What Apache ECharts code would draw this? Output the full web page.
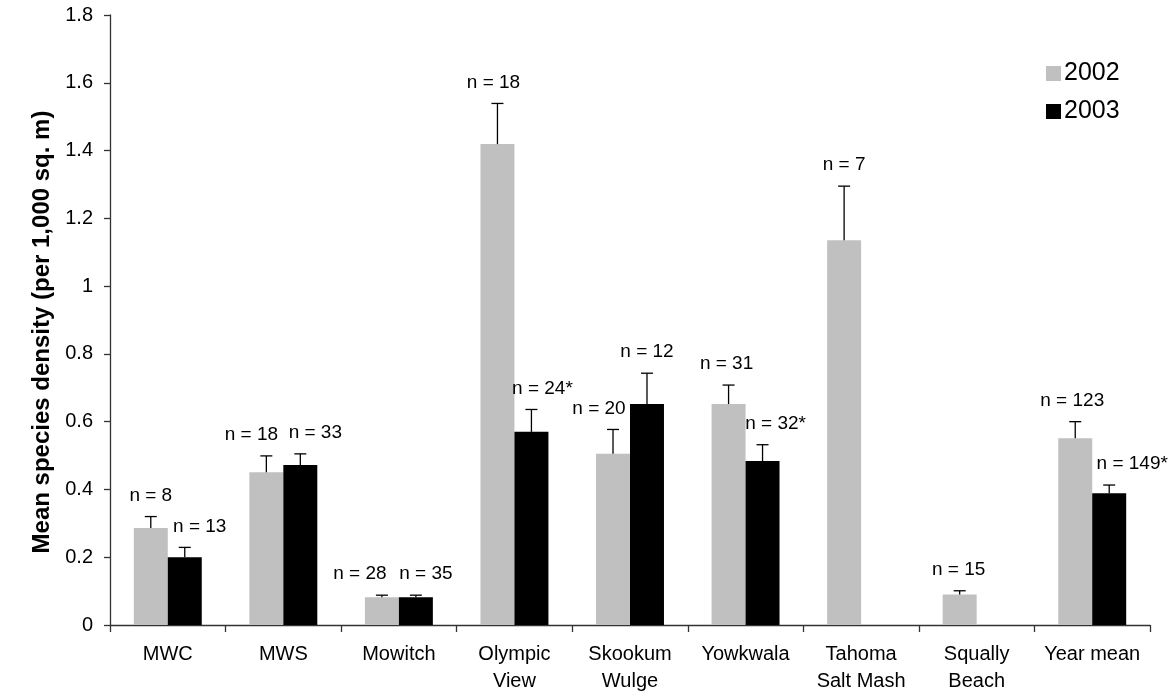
<!DOCTYPE html>
<html>
<head>
<meta charset="utf-8">
<script src="https://cdn.jsdelivr.net/npm/echarts@6/dist/echarts.min.js"></script>
<style>
html,body{margin:0;padding:0;background:#fff;}
#chart{width:1176px;height:696px;}
</style>
</head>
<body>
<div id="chart"></div>
<script>
var categories = ['MWC', 'MWS', 'Mowitch', 'Olympic\nView', 'Skookum\nWulge', 'Yowkwala', 'Tahoma\nSalt Mash', 'Squally\nBeach', 'Year mean'];
var mean2002 = [0.286, 0.451, 0.082, 1.419, 0.505, 0.652, 1.135, 0.090, 0.551];
var se2002   = [0.034, 0.048, 0.006, 0.120, 0.072, 0.056, 0.160, 0.011, 0.049];
var mean2003 = [0.200, 0.472, 0.082, 0.570, 0.652, 0.484, null, null, 0.389];
var se2003   = [0.029, 0.033, 0.006, 0.066, 0.091, 0.048, null, null, 0.024];
var n2002 = ['n = 8', 'n = 18', 'n = 28', 'n = 18', 'n = 20', 'n = 31', 'n = 7', 'n = 15', 'n = 123'];
var n2003 = ['n = 13', 'n = 33', 'n = 35', 'n = 24*', 'n = 12', 'n = 32*', null, null, 'n = 149*'];
var yTicks = { min: 0, max: 1.8, interval: 0.2 };

// layout: horizontal nudges of the n-labels (pixels), as placed in the original
var labelShift2002 = [0, -15, -22, -4, -14, -2, 0, -1, -3];
var labelShift2003 = [15, 15, 10, 11, 0, 13, 0, 0, 23];

var GAP = 0.412;
var FONT = '"Liberation Sans", Arial, sans-serif';

function errSeries(name, means, ses, labels, shifts, side) {
  var data = means.map(function (m, i) {
    return m == null ? [i, null, null] : [i, m, m + ses[i]];
  });
  return {
    type: 'custom',
    name: name + ' err',
    data: data,
    z: 5,
    silent: true,
    encode: { x: 0, y: [1, 2] },
    renderItem: function (params, api) {
      var i = api.value(0);
      var m = api.value(1);
      if (m == null || isNaN(m)) return null;
      var top = api.value(2);
      var p0 = api.coord([i, m]);
      var p1 = api.coord([i, top]);
      var bw = api.size([1, 0])[0] * (1 - GAP) / 2;
      var cx = p0[0] + side * bw / 2;
      var cap = 6;
      return {
        type: 'group',
        children: [
          { type: 'line', shape: { x1: cx, y1: p0[1], x2: cx, y2: p1[1] }, style: { stroke: '#000', lineWidth: 1.3 } },
          { type: 'line', shape: { x1: cx - cap, y1: p1[1], x2: cx + cap, y2: p1[1] }, style: { stroke: '#000', lineWidth: 1.3 } },
          { type: 'text', x: cx + shifts[i], y: p1[1] - 21,
            style: { text: labels[i], fill: '#000', font: '19px ' + FONT, textAlign: 'center', textVerticalAlign: 'middle' } }
        ]
      };
    }
  };
}

var chart = echarts.init(document.getElementById('chart'));
chart.setOption({
  animation: false,
  backgroundColor: '#fff',
  textStyle: { fontFamily: FONT },
  grid: { left: 110, right: 26, top: 15, bottom: 71, containLabel: false },
  legend: {
    data: ['2002', '2003'],
    orient: 'vertical',
    left: 1041,
    top: 56,
    itemWidth: 15,
    itemHeight: 15,
    itemGap: 13,
    icon: 'rect',
    textStyle: { fontSize: 25, color: '#000', fontFamily: FONT, padding: [0, 0, 0, -2] }
  },
  xAxis: {
    type: 'category',
    data: categories,
    axisLine: { lineStyle: { color: '#333', width: 1.3 } },
    axisTick: { show: true, length: 7, alignWithLabel: false, lineStyle: { color: '#333', width: 1.3 } },
    axisLabel: { color: '#000', fontSize: 20, lineHeight: 27, margin: 16, interval: 0, fontFamily: FONT }
  },
  yAxis: {
    type: 'value',
    min: yTicks.min,
    max: yTicks.max,
    interval: yTicks.interval,
    name: 'Mean species density (per 1,000 sq. m)',
    nameLocation: 'middle',
    nameGap: 56,
    nameTextStyle: { fontSize: 24, fontWeight: 'bold', color: '#000', fontFamily: FONT, padding: [0, 0, 0, -24] },
    splitLine: { show: false },
    axisLine: { show: true, lineStyle: { color: '#333', width: 1.3 } },
    axisTick: { show: true, length: 6, lineStyle: { color: '#333', width: 1.3 } },
    axisLabel: { color: '#000', fontSize: 20, margin: 17, fontFamily: FONT }
  },
  series: [
    { name: '2002', type: 'bar', data: mean2002, itemStyle: { color: '#C0C0C0' }, barGap: '0%', barCategoryGap: (GAP * 100) + '%' },
    { name: '2003', type: 'bar', data: mean2003, itemStyle: { color: '#000000' }, barGap: '0%', barCategoryGap: (GAP * 100) + '%' },
    errSeries('2002', mean2002, se2002, n2002, labelShift2002, -1),
    errSeries('2003', mean2003, se2003, n2003, labelShift2003, 1)
  ]
});
</script>
</body>
</html>
